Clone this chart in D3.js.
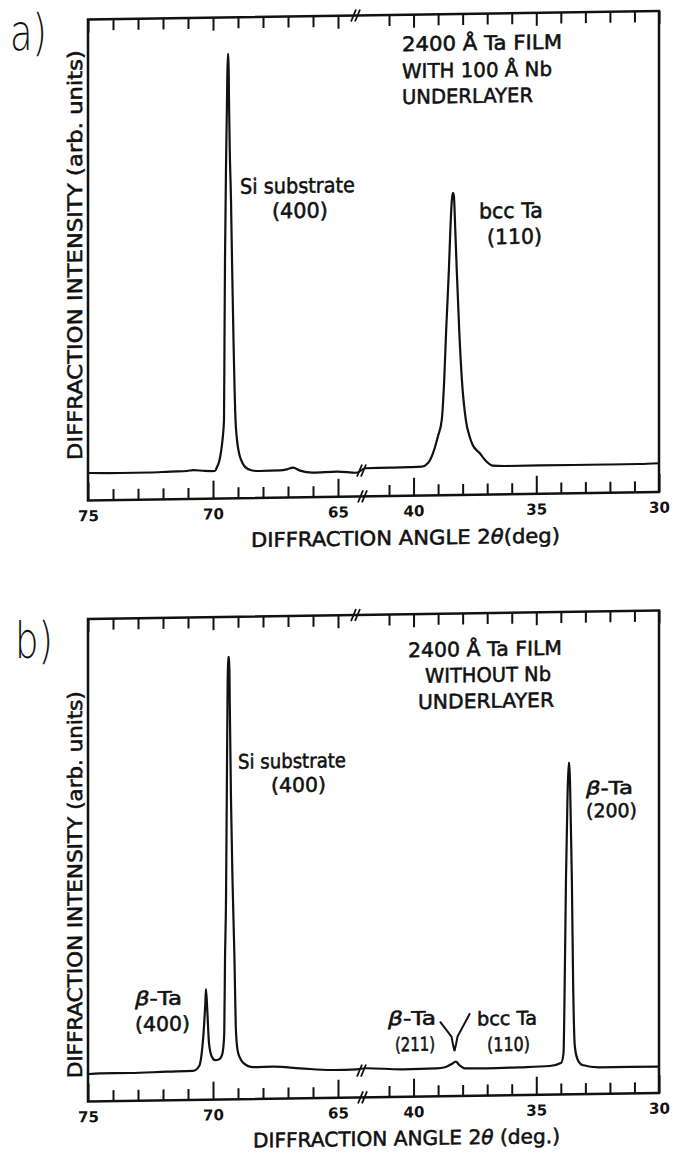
<!DOCTYPE html>
<html>
<head>
<meta charset="utf-8">
<script src="https://cdn.jsdelivr.net/npm/d3@7"></script>
<style>
  body { margin: 0; background: #fff; }
  svg { display: block; }
  text { font-family: 'DejaVu Sans', 'Noto Sans', sans-serif; fill: #111; }
  .ink { stroke: #111; stroke-width: 0.55px; }
</style>
</head>
<body>
<div id="chart"></div>
<script>
(function () {
    'use strict';

    // scan data, [2theta (deg), intensity (arb. units, 0-100)]
    // high-angle part of the scan (75 - 64.2 deg), left of the axis break
    var scanA_high = [
        [75.00, 1.56], [73.72, 1.45], [72.52, 1.46], [71.72, 1.61], [71.04, 1.67],
        [70.80, 1.87], [70.32, 1.62], [69.92, 1.58], [69.84, 2.46], [69.76, 3.57],
        [69.68, 5.78], [69.62, 8.45], [69.56, 12.9], [69.54, 30.7], [69.52, 48.4],
        [69.47, 72.9], [69.44, 84.0], [69.41, 94.2], [69.38, 94.2], [69.36, 84.0],
        [69.33, 72.9], [69.28, 61.8], [69.24, 48.4], [69.18, 30.6], [69.10, 12.9],
        [69.04, 8.4], [68.96, 5.5], [68.84, 3.5], [68.72, 2.4], [68.44, 1.57],
        [68.12, 1.43], [67.32, 1.49], [67.04, 1.72], [66.80, 2.07], [66.52, 1.38],
        [66.00, 0.90], [65.04, 1.02], [64.24, 0.73]
    ];
    // low-angle part (42.1 - 30 deg), right of the break
    var scanA_low = [
        [41.98, 1.70], [40.96, 1.74], [40.15, 1.78], [39.66, 1.86], [39.42, 2.59],
        [39.21, 4.80], [39.01, 8.47], [38.85, 12.2], [38.75, 21.1], [38.67, 32.2],
        [38.56, 45.5], [38.50, 54.4], [38.44, 61.0], [38.40, 62.6], [38.36, 62.1],
        [38.30, 54.4], [38.24, 45.5], [38.14, 32.1], [38.03, 21.0], [37.87, 12.1],
        [37.71, 8.3], [37.59, 6.5], [37.31, 4.7], [37.02, 2.75], [36.78, 1.85],
        [36.21, 1.73], [34.87, 1.74], [33.53, 1.74], [32.03, 1.73], [30.81, 1.74],
        [30.00, 1.84]
    ];
    var scanB_high = [
        [75.00, 1.33], [74.52, 1.45], [73.32, 1.42], [71.84, 1.58], [70.80, 1.66],
        [70.55, 2.74], [70.45, 5.63], [70.36, 11.5], [70.31, 16.3], [70.28, 19.8],
        [70.23, 15.2], [70.16, 7.8], [70.05, 4.8], [69.92, 4.0], [69.75, 4.2],
        [69.64, 5.1], [69.60, 6.2], [69.55, 10.0], [69.52, 26.2], [69.48, 39.6],
        [69.45, 61.8], [69.42, 84.0], [69.40, 93.5], [69.35, 93.5], [69.33, 84.0],
        [69.28, 61.8], [69.22, 44.0], [69.14, 26.2], [69.09, 11.5], [69.02, 6.2],
        [68.92, 4.4], [68.79, 3.3], [68.39, 2.3], [67.59, 2.35], [66.52, 1.90],
        [65.20, 1.42], [64.25, 1.49]
    ];
    var scanB_low = [
        [41.98, 1.70], [40.43, 1.34], [39.06, 1.45], [38.72, 1.65], [38.45, 2.36],
        [38.28, 2.86], [38.14, 2.11], [37.91, 1.36], [37.03, 1.29], [35.68, 1.40],
        [34.46, 1.59], [33.98, 2.29], [33.89, 4.43], [33.84, 20.7], [33.79, 42.9],
        [33.73, 60.6], [33.68, 68.9], [33.65, 68.9], [33.61, 60.6], [33.55, 42.9],
        [33.50, 20.6], [33.43, 5.95], [33.32, 3.0], [33.12, 1.7], [32.44, 1.14],
        [31.20, 1.11], [30.00, 1.10]
    ];

    // axis ticks
    var majorHigh = [75, 70, 65];
    var minorHigh = [74, 73, 72, 71, 69, 68, 67, 66];
    var majorLow = [40, 35, 30];
    var minorLow = [41, 39, 38, 37, 36, 34, 33, 32, 31];

    var W = 673, H = 1155;
    var LEFT = 88, RIGHT = 659;

    var svg = d3.select('#chart').append('svg')
        .attr('width', W)
        .attr('height', H);

    var panels = [
        {
            offset: 0, top: 19.5, bottom: 500.5,
            high: scanA_high, low: scanA_low,
            letter: { text: 'a)', x: 10, y: 49, w: 37 },
            yTitle: { y: 255, w: 410 },
            xTitle: { text: 'DIFFRACTION ANGLE 2*θ*(deg)', x: 251, y: 549.5, w: 309 },
            labels: [
                { text: '2400 Å Ta FILM', x: 402, y: 55.8, w: 160, size: 20 },
                { text: 'WITH 100 Å Nb', x: 402, y: 82.8, w: 150, size: 20 },
                { text: 'UNDERLAYER', x: 402, y: 108.6, w: 131, size: 20 },
                { text: 'Si substrate', x: 240, y: 196.1, w: 115, size: 21 },
                { text: '(400)', x: 272, y: 221.1, w: 56, size: 21 },
                { text: 'bcc Ta', x: 479, y: 224.3, w: 64, size: 21 },
                { text: '(110)', x: 487, y: 250.3, w: 55, size: 21 }
            ]
        },
        {
            offset: 600, top: 19, bottom: 501.5,
            high: scanB_high, low: scanB_low,
            letter: { text: 'b)', x: 15, y: 57, w: 38 },
            yTitle: { y: 284.5, w: 387 },
            xTitle: { text: 'DIFFRACTION ANGLE 2*θ* (deg.)', x: 253, y: 550, w: 307 },
            labels: [
                { text: '2400 Å Ta FILM', x: 408, y: 61.9, w: 154, size: 20 },
                { text: 'WITHOUT Nb', x: 425, y: 87.8, w: 126, size: 20 },
                { text: 'UNDERLAYER', x: 418, y: 113.8, w: 136, size: 20 },
                { text: 'Si substrate', x: 238, y: 171, w: 108, size: 20 },
                { text: '(400)', x: 271, y: 195, w: 55, size: 20 },
                { text: '*β*-Ta', x: 586, y: 202, w: 47, size: 18 },
                { text: '(200)', x: 586, y: 225, w: 51, size: 19 },
                { text: '*β*-Ta', x: 135, y: 406, w: 47, size: 19 },
                { text: '(400)', x: 135, y: 432, w: 55, size: 20 },
                { text: '*β*-Ta', x: 388, y: 429.8, w: 48, size: 19 },
                { text: '(211)', x: 395, y: 455.8, w: 40, size: 19 },
                { text: 'bcc Ta', x: 477, y: 431.2, w: 60, size: 19 },
                { text: '(110)', x: 487, y: 457.2, w: 43, size: 19 }
            ],
            pointer: 'M440,426.9 L451.5,442 L453,450 L454.5,456.5 M470,419 L457.5,442 L456,450 L454.5,456.5'
        }
    ];

    panels.forEach(function (p) {
        drawPanel(p);
    });

    function drawPanel(p) {
        // the scan is slightly tilted, follow it with a small skew
        var g = svg.append('g')
            .attr('transform', 'translate(0,' + p.offset + ') translate(' + LEFT + ',0) skewY(-0.85) translate(' + (-LEFT) + ',0)');

        var xHigh = d3.scaleLinear().domain([75, 64.2]).range([LEFT, 358]);
        var xLow = d3.scaleLinear().domain([42.1, 30]).range([362, RIGHT]);
        var y = d3.scaleLinear().domain([0, 100]).range([480, 30]);

        // frame
        g.append('rect')
            .attr('x', LEFT)
            .attr('y', p.top)
            .attr('width', RIGHT - LEFT)
            .attr('height', p.bottom - p.top)
            .attr('fill', 'none')
            .attr('stroke', '#111')
            .attr('stroke-width', 2.5);

        // ticks, inside the frame
        [[xHigh, minorHigh, majorHigh], [xLow, minorLow, majorLow]].forEach(function (s) {
            var scale = s[0];

            axis(g, p.top, d3.axisTop(scale).tickValues(s[1]).tickSize(-11).tickFormat(''));
            axis(g, p.top, d3.axisTop(scale).tickValues(s[2]).tickSize(-13).tickFormat(''));
            axis(g, p.bottom, d3.axisBottom(scale).tickValues(s[1]).tickSize(-11).tickFormat(''));

            var major = axis(g, p.bottom, d3.axisBottom(scale).tickValues(s[2]).tickSize(-18).tickPadding(10));
            major.selectAll('text')
                .attr('font-size', 15)
                .attr('font-weight', 'bold')
                .attr('font-family', "'DejaVu Sans', sans-serif")
                .attr('fill', '#111');
        });

        // curve, both parts joined across the break
        var points = p.high.map(function (d) { return [xHigh(d[0]), y(d[1])]; })
            .concat(p.low.map(function (d) { return [xLow(d[0]), y(d[1])]; }));

        g.append('path')
            .datum(points)
            .attr('d', d3.line().curve(d3.curveMonotoneX))
            .attr('fill', 'none')
            .attr('stroke', '#111')
            .attr('stroke-width', 2.2)
            .attr('stroke-linejoin', 'round');

        // break marks
        breakMark(g, 355, p.top);
        breakMark(g, 361, y(1.2));
        breakMark(g, 362, p.bottom);

        if (p.pointer) {
            g.append('path')
                .attr('d', p.pointer)
                .attr('fill', 'none')
                .attr('stroke', '#111')
                .attr('stroke-width', 2);
        }

        // texts
        addText(g, p.letter, 50, 300, "Lato, 'Noto Sans', sans-serif").classed('ink', false);
        p.labels.forEach(function (d) {
            addText(g, d, d.size, null);
        });
        addText(g, p.xTitle, 20, null);

        g.append('text')
            .classed('ink', true)
            .attr('transform', 'translate(82,' + p.yTitle.y + ') rotate(-90)')
            .attr('text-anchor', 'middle')
            .attr('font-size', 20)
            .attr('textLength', p.yTitle.w)
            .attr('lengthAdjust', 'spacingAndGlyphs')
            .text('DIFFRACTION INTENSITY (arb. units)');
    }

    function axis(g, yPos, ax) {
        var a = g.append('g')
            .attr('transform', 'translate(0,' + yPos + ')')
            .call(ax);
        a.select('.domain').remove();
        a.selectAll('line')
            .attr('stroke', '#111')
            .attr('stroke-width', 2);
        return a;
    }

    function breakMark(g, x, yPos) {
        [0, 4].forEach(function (dx) {
            g.append('line')
                .attr('x1', x - 4 + dx)
                .attr('y1', yPos + 6)
                .attr('x2', x + 1 + dx)
                .attr('y2', yPos - 6)
                .attr('stroke', '#111')
                .attr('stroke-width', 1.8);
        });
    }

    // '*' marks italic runs, e.g. '*β*-Ta'
    function addText(g, d, size, weight, family) {
        var t = g.append('text')
            .classed('ink', true)
            .attr('x', d.x)
            .attr('y', d.y)
            .attr('font-size', size)
            .attr('textLength', d.w)
            .attr('lengthAdjust', 'spacingAndGlyphs');
        if (weight) t.attr('font-weight', weight);
        if (family) t.attr('font-family', family);

        d.text.split('*').forEach(function (part, i) {
            if (!part) return;
            t.append('tspan')
                .attr('font-style', i % 2 ? 'italic' : null)
                .text(part);
        });
        return t;
    }
}());
</script>
</body>
</html>
